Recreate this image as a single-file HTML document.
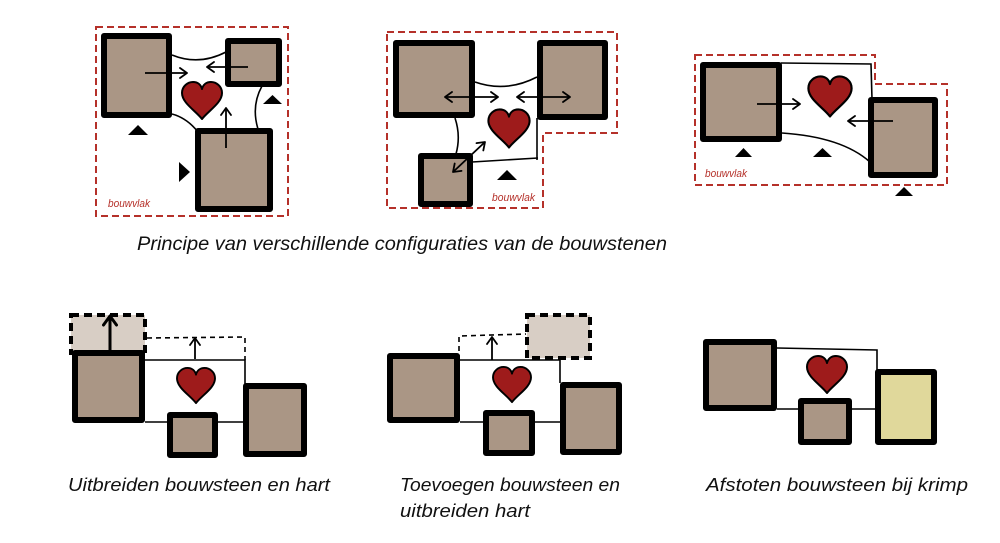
<!DOCTYPE html>
<html><head><meta charset="utf-8"><style>
html,body{margin:0;padding:0;background:#fff;}
svg{display:block;}
text{font-family:"Liberation Sans",sans-serif;font-style:italic;}
</style></head><body>
<svg width="1000" height="543" viewBox="0 0 1000 543" xmlns="http://www.w3.org/2000/svg">
<defs>
<marker id="ah" markerWidth="12" markerHeight="12" refX="9" refY="6" orient="auto" markerUnits="userSpaceOnUse">
<path d="M2,1 L9,6 L2,11" fill="none" stroke="#000" stroke-width="1.8" stroke-linecap="round" stroke-linejoin="round"/>
</marker>
<marker id="as" markerWidth="12" markerHeight="12" refX="9" refY="6" orient="auto-start-reverse" markerUnits="userSpaceOnUse">
<path d="M2,1 L9,6 L2,11" fill="none" stroke="#000" stroke-width="1.8" stroke-linecap="round" stroke-linejoin="round"/>
</marker>
<marker id="ab" markerWidth="16" markerHeight="16" refX="12" refY="8" orient="auto" markerUnits="userSpaceOnUse">
<path d="M3,1.5 L12,8 L3,14.5" fill="none" stroke="#000" stroke-width="3" stroke-linecap="round" stroke-linejoin="round"/>
</marker>
<path id="hrt" d="M0,18 C-6,10 -20,2 -20,-8 C-20,-15 -14,-19 -9,-19 C-4,-19 -1,-16 0,-12 C1,-16 4,-19 9,-19 C14,-19 20,-15 20,-8 C20,2 6,10 0,18 Z" fill="#9e1b1b" stroke="#000" stroke-width="2" stroke-linejoin="round"/>
</defs>

<g fill="none" stroke="#000" stroke-width="1.6">
<!-- Diagram 1 -->
<path d="M172,55 Q199,66 226,52"/>
<path d="M172,114 Q187,118 198,132"/>
<path d="M262,86 Q251,106 258,129"/>
<!-- Diagram 2 -->
<path d="M475,82 Q506,93 537,77"/>
<path d="M455,118 Q461,136 456,154"/>
<path d="M472,162 L538,158"/>
<path d="M537,118 L537,160"/>
<!-- Diagram 3 -->
<path d="M781,63 L871,64 L872,99"/>
<path d="M782,133 Q842,137 870,162"/>
<!-- Bottom 1 -->
<path d="M145,360 L245,360 L245,385"/>
<path d="M145,422 L168,422"/>
<path d="M218,422 L244,422"/>
<!-- Bottom 2 -->
<path d="M460,360 L560,360 L560,383"/>
<path d="M460,422 L485,422"/>
<path d="M534,422 L561,422"/>
<!-- Bottom 3 -->
<path d="M777,348 L877,350 L877,371"/>
<path d="M777,409 L799,409"/>
<path d="M851,409 L876,409"/>
</g>

<!-- dashed red bouwvlak outlines -->
<g fill="none" stroke="#b5312a" stroke-width="2" stroke-dasharray="7 4">
<rect x="96" y="27" width="192" height="189"/>
<path d="M387,32 L617,32 L617,133 L543,133 L543,208 L387,208 Z"/>
<path d="M695,55 L875,55 L875,84 L947,84 L947,185 L695,185 Z"/>
</g>

<!-- thin dashed extension outlines -->
<g fill="none" stroke="#000" stroke-width="1.6" stroke-dasharray="5 4">
<path d="M147,338 L245,337 L245,360"/>
<path d="M459,360 L459,336 L526,334"/>
</g>

<!-- light dashed boxes -->
<rect x="71" y="315" width="74" height="38" fill="#d8cec5" stroke="#000" stroke-width="4" stroke-dasharray="8 5"/>
<rect x="527" y="315" width="63" height="43" fill="#d8cec5" stroke="#000" stroke-width="4" stroke-dasharray="8 5"/>

<!-- building blocks -->
<g fill="#aa9685" stroke="#000" stroke-width="6" stroke-linejoin="round">
<rect x="104" y="36" width="65" height="79"/>
<rect x="228" y="41" width="51" height="43"/>
<rect x="198" y="131" width="72" height="78"/>

<rect x="396" y="43" width="76" height="72"/>
<rect x="540" y="43" width="65" height="74"/>
<rect x="421" y="156" width="49" height="48"/>

<rect x="703" y="65" width="76" height="74"/>
<rect x="871" y="100" width="64" height="75"/>

<rect x="75" y="353" width="67" height="67"/>
<rect x="170" y="415" width="45" height="40"/>
<rect x="246" y="386" width="58" height="68"/>

<rect x="390" y="356" width="67" height="64"/>
<rect x="486" y="413" width="46" height="40"/>
<rect x="563" y="385" width="56" height="67"/>

<rect x="706" y="342" width="68" height="66"/>
<rect x="801" y="401" width="48" height="41"/>
<rect x="878" y="372" width="56" height="70" fill="#e0d89b"/>
</g>

<!-- arrows -->
<g fill="none" stroke="#000" stroke-width="1.8">
<path d="M145,73 L187,73" marker-end="url(#ah)"/>
<path d="M248,67 L207,67" marker-end="url(#ah)"/>
<path d="M226,148 L226,108" marker-end="url(#ah)"/>

<path d="M445,97 L498,97" marker-start="url(#as)" marker-end="url(#as)"/>
<path d="M517,97 L570,97" marker-start="url(#as)" marker-end="url(#as)"/>
<path d="M453,172 L485,142" marker-start="url(#as)" marker-end="url(#as)"/>

<path d="M757,104 L800,104" marker-end="url(#ah)"/>
<path d="M893,121 L848,121" marker-end="url(#ah)"/>

<path d="M195,359 L195,338" marker-end="url(#ah)"/>
<path d="M492,360 L492,337" marker-end="url(#ah)"/>
<path d="M110,351 L110,316" stroke-width="3" marker-end="url(#ab)"/>
</g>

<!-- hearts -->
<use href="#hrt" transform="translate(202,101)"/>
<use href="#hrt" transform="translate(509,129) scale(1.03)"/>
<use href="#hrt" transform="translate(830,97) scale(1.08)"/>
<use href="#hrt" transform="translate(196,386) scale(0.95)"/>
<use href="#hrt" transform="translate(512,385) scale(0.95)"/>
<use href="#hrt" transform="translate(827,375) scale(1.0)"/>

<!-- entrance triangles -->
<g fill="#000">
<polygon points="128,135 138,125 148,135"/>
<polygon points="263,104 272.5,95 282,104"/>
<polygon points="179,162 190,172 179,182"/>
<polygon points="497,180 507,170 517,180"/>
<polygon points="735,157 743.5,148 752,157"/>
<polygon points="813,157 822.5,148 832,157"/>
<polygon points="895,196 904,187 913,196"/>
</g>

<!-- bouwvlak labels -->
<g fill="#b5312a" font-size="11">
<text x="108" y="207" textLength="42" lengthAdjust="spacingAndGlyphs">bouwvlak</text>
<text x="492" y="201" textLength="43" lengthAdjust="spacingAndGlyphs">bouwvlak</text>
<text x="705" y="177" textLength="42" lengthAdjust="spacingAndGlyphs">bouwvlak</text>
</g>

<!-- captions -->
<g fill="#111">
<text x="137" y="250" font-size="19" textLength="530" lengthAdjust="spacingAndGlyphs">Principe van verschillende configuraties van de bouwstenen</text>
<text x="68" y="491" font-size="18" textLength="262" lengthAdjust="spacingAndGlyphs">Uitbreiden bouwsteen en hart</text>
<text x="400" y="491" font-size="18" textLength="220" lengthAdjust="spacingAndGlyphs">Toevoegen bouwsteen en</text>
<text x="400" y="517" font-size="18" textLength="130" lengthAdjust="spacingAndGlyphs">uitbreiden hart</text>
<text x="706" y="491" font-size="18" textLength="262" lengthAdjust="spacingAndGlyphs">Afstoten bouwsteen bij krimp</text>
</g>
</svg>
</body></html>
